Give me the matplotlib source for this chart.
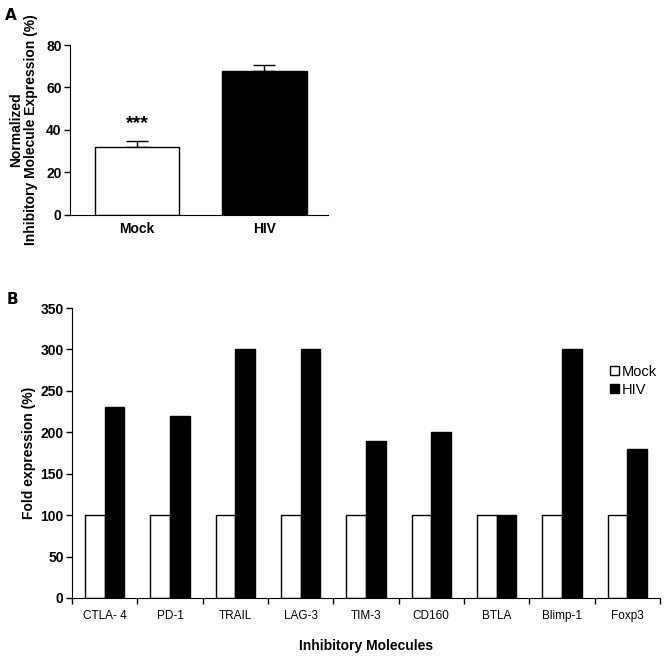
import numpy as np
import matplotlib
matplotlib.use('Agg')
import matplotlib.pyplot as plt

plt.rcParams['font.family'] = ['Liberation Sans', 'DejaVu Sans']

# panel A data
groups_a = ['Mock', 'HIV']
values_a = [32, 68]
errors_a = [2.7, 2.5]

# panel B data
molecules = ['CTLA- 4', 'PD-1', 'TRAIL', 'LAG-3', 'TIM-3', 'CD160', 'BTLA', 'Blimp-1', 'Foxp3']
mock_b = [100, 100, 100, 100, 100, 100, 100, 100, 100]
hiv_b = [230, 220, 300, 300, 190, 200, 100, 300, 180]

fig = plt.figure(figsize=(6.69, 6.58), dpi=100)

# ---- panel A
ax1 = fig.add_axes([0.1046, 0.6733, 0.3857, 0.2583])
xa = np.arange(len(groups_a))
ax1.bar(xa, values_a, width=0.66, color=['white', 'black'], edgecolor='black',
        linewidth=1.0, zorder=2)
ax1.errorbar(xa, values_a, yerr=[[0, 0], errors_a], fmt='none', ecolor='black',
             elinewidth=1.0, capsize=8, capthick=1.0, zorder=1)
ax1.text(0, 39.0, '***', ha='center', va='bottom', fontsize=14, fontweight='bold')
ax1.set_xlim(-0.525, 1.498)
ax1.set_ylim(0, 80)
ax1.set_yticks([0, 20, 40, 60, 80])
ax1.set_xticks(xa)
ax1.set_xticklabels(groups_a, fontsize=10, fontweight='bold')
ax1.tick_params(axis='x', length=0, pad=5)
ax1.tick_params(axis='y', length=4, width=1, pad=2, labelsize=10)
for lab in ax1.get_yticklabels():
    lab.set_fontweight('bold')
ax1.spines['top'].set_visible(False)
ax1.spines['right'].set_visible(False)
ax1.set_ylabel('Inhibitory Molecule Expression (%)', fontsize=10,
               fontweight='bold', labelpad=6)
ax1.text(-0.209, 0.5, 'Normalized', transform=ax1.transAxes, rotation=90,
         ha='center', va='center', fontsize=10, fontweight='bold')
fig.text(0.008, 0.976, 'A', fontsize=11, fontweight='bold',
         family=['Liberation Sans Narrow', 'DejaVu Sans'], va='center')

# ---- panel B
ax2 = fig.add_axes([0.1076, 0.0912, 0.8789, 0.4407])
xb = np.arange(len(molecules)) + 0.5
w = 0.3
ax2.bar(xb - w / 2, mock_b, width=w, color='white', edgecolor='black',
        linewidth=1.0, label='Mock')
ax2.bar(xb + w / 2, hiv_b, width=w, color='black', edgecolor='black',
        linewidth=1.0, label='HIV')
ax2.set_xlim(0, len(molecules))
ax2.set_ylim(0, 350)
ax2.set_yticks(np.arange(0, 351, 50))
ax2.set_xticks(np.arange(0, len(molecules) + 1))
ax2.set_xticklabels([])
ax2.set_xticks(xb, minor=True)
ax2.set_xticklabels(molecules, minor=True, fontsize=8.5)
ax2.tick_params(axis='x', which='major', length=4, width=1)
ax2.tick_params(axis='x', which='minor', length=0, pad=9)
ax2.tick_params(axis='y', length=4, width=1, pad=2, labelsize=10)
for lab in ax2.get_yticklabels():
    lab.set_fontweight('bold')
ax2.spines['top'].set_visible(False)
ax2.spines['right'].set_visible(False)
ax2.set_ylabel('Fold expression (%)', fontsize=10, fontweight='bold', labelpad=3)
ax2.set_xlabel('Inhibitory Molecules', fontsize=10, fontweight='bold', labelpad=12)
leg = ax2.legend(loc='upper left', bbox_to_anchor=(0.905, 0.825), frameon=False,
                 fontsize=10.5, handlelength=0.6, handleheight=0.6,
                 handletextpad=0.2, labelspacing=0.3, borderaxespad=0)
fig.text(0.010, 0.545, 'B', fontsize=11, fontweight='bold',
         family=['Liberation Sans Narrow', 'DejaVu Sans'], va='center')

fig.savefig('out.png', dpi=100)
